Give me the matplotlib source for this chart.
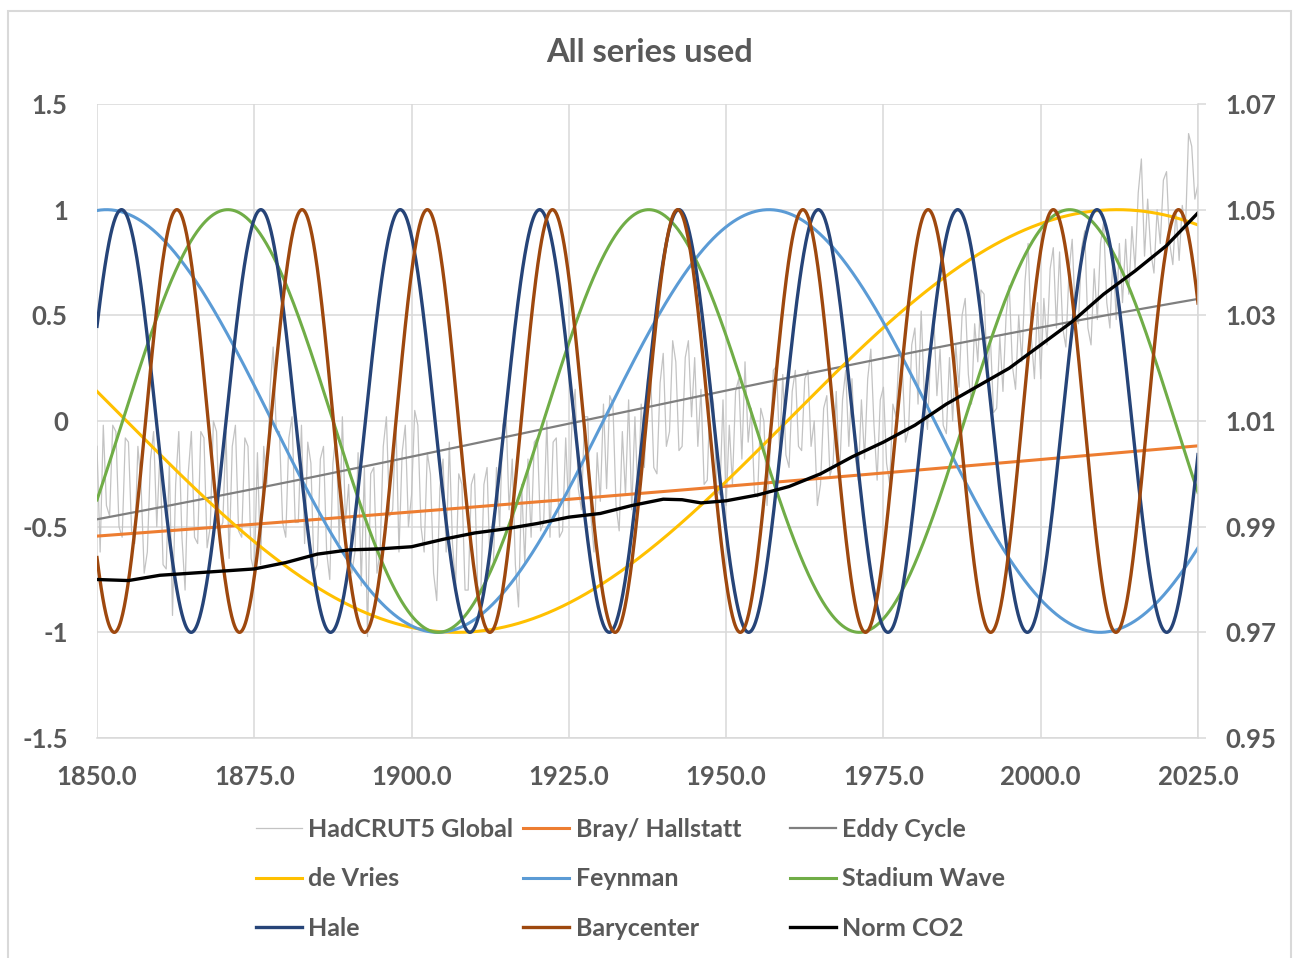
import numpy as np
import matplotlib.pyplot as plt
from matplotlib.patches import Rectangle
from matplotlib.ticker import FixedLocator, FixedFormatter, FormatStrFormatter

plt.rcParams['font.family'] = ['Lato', 'DejaVu Sans']
plt.rcParams['font.weight'] = 'bold'

# ---------------------------------------------------------------------
# Data
# ---------------------------------------------------------------------
# HadCRUT5 global anomaly, two readings per year from 1850.0 to 2025.0
hadcrut = [
    -0.12, -0.62, -0.02, -0.40, -0.45, -0.02, -0.05, -0.50, -0.55, -0.08,
    -0.10, -0.52, -0.58, -0.12, -0.30, -0.72, -0.62, -0.18, -0.05, -0.50,
    -0.15, -0.68, -0.70, -0.20, -0.92, -0.30, -0.05, -0.55, -0.80, -0.25,
    -0.05, -0.55, -0.58, -0.05, -0.08, -0.60, -0.50, 0.00, -0.05, -0.52,
    -0.48, -0.05, -0.65, -0.12, -0.02, -0.52, -0.55, -0.08, -0.12, -0.65,
    -0.72, -0.15, -0.68, -0.12, -0.30, 0.15, 0.35, -0.05, -0.05, -0.48,
    -0.55, -0.08, 0.02, -0.48, -0.48, -0.02, -0.58, -0.10, -0.20, -0.72,
    -0.68, -0.18, -0.12, -0.62, -0.75, -0.20, -0.05, -0.58, 0.02, -0.48,
    -0.30, -0.72, -0.62, -0.15, -0.78, -0.22, -1.02, -0.25, -0.22, -0.72,
    -0.62, -0.12, 0.02, -0.45, -0.42, 0.02, -0.62, -0.15, -0.02, -0.50,
    -0.35, 0.05, -0.02, -0.50, -0.62, -0.15, -0.25, -0.72, -0.85, -0.32,
    -0.18, -0.62, -0.10, -0.58, -0.78, -0.25, -0.30, -0.80, -0.80, -0.30,
    -0.25, -0.78, -0.82, -0.30, -0.22, -0.72, -0.68, -0.22, -0.50, -0.02,
    0.05, -0.42, -0.18, -0.68, -0.88, -0.30, -0.68, -0.18, -0.55, -0.10,
    -0.08, -0.52, -0.48, 0.00, -0.55, -0.10, -0.08, -0.55, -0.52, -0.08,
    -0.45, 0.00, 0.15, -0.32, -0.42, 0.02, 0.02, -0.45, -0.62, -0.15,
    -0.38, 0.08, -0.32, 0.12, 0.08, -0.40, -0.52, -0.05, -0.35, 0.10,
    -0.42, 0.02, -0.38, 0.08, -0.22, 0.20, 0.22, -0.22, -0.25, 0.18,
    0.32, -0.12, -0.05, 0.38, 0.28, -0.14, -0.12, 0.30, 0.38, 0.02,
    0.30, -0.12, 0.15, -0.30, -0.28, 0.18, 0.08, -0.32, -0.35, 0.10,
    -0.40, -0.02, -0.30, 0.14, 0.20, -0.18, 0.28, -0.10, 0.06, -0.34,
    -0.36, 0.06, 0.00, -0.40, -0.14, 0.24, 0.26, -0.14, 0.22, -0.16,
    -0.22, 0.14, 0.24, -0.12, -0.14, 0.20, 0.24, -0.12, 0.00, -0.40,
    -0.30, 0.06, 0.12, -0.26, -0.20, 0.14, -0.28, 0.10, 0.24, -0.12,
    0.20, -0.16, -0.28, 0.10, -0.18, 0.20, 0.34, -0.02, -0.28, 0.10,
    0.16, -0.20, -0.30, 0.08, 0.02, 0.34, 0.26, -0.10, -0.04, 0.36,
    0.44, 0.08, 0.52, 0.12, -0.04, 0.32, 0.50, 0.12, 0.34, -0.02,
    -0.06, 0.30, 0.00, 0.36, 0.16, 0.50, 0.58, 0.22, 0.08, 0.46,
    0.28, 0.62, 0.60, 0.22, 0.40, 0.04, 0.06, 0.40, 0.14, 0.50,
    0.64, 0.26, 0.15, 0.50, 0.28, 0.66, 0.84, 0.40, 0.20, 0.56,
    0.20, 0.58, 0.36, 0.72, 0.82, 0.44, 0.80, 0.44, 0.35, 0.71,
    0.86, 0.50, 0.46, 0.82, 0.90, 0.44, 0.36, 0.72, 0.48, 0.84,
    0.94, 0.56, 0.44, 0.80, 0.48, 0.84, 0.56, 0.86, 0.60, 0.92,
    0.72, 1.08, 1.24, 0.78, 1.05, 0.80, 0.70, 1.00, 0.84, 1.14,
    1.18, 0.84, 0.74, 1.00, 0.76, 1.02, 0.90, 1.36, 1.30, 1.05,
    1.12,
]

# solar / orbital cycles: period (years) and the year of a crest
cycle_names = ['Bray/ Hallstatt', 'Eddy Cycle', 'de Vries', 'Feynman',
               'Stadium Wave', 'Hale', 'Barycenter']
cycle_periods = [2400, 1000, 210, 105.3, 66.9, 22.15, 19.9]
cycle_peak_years = [2670, 2177, 2012.2, 1956.8, 1870.8, 1853.9, 1862.7]

# normalised CO2 (right axis)
co2_years = [1850, 1855, 1860, 1865, 1870, 1875, 1880, 1885, 1890, 1895,
             1900, 1905, 1910, 1915, 1920, 1925, 1930, 1935, 1940, 1943,
             1946, 1950, 1955, 1960, 1965, 1970, 1975, 1980, 1985, 1990,
             1995, 2000, 2005, 2010, 2015, 2020, 2025]
co2_norm = [0.9800, 0.9798, 0.9808, 0.9812, 0.9816, 0.9820, 0.9832, 0.9848,
            0.9856, 0.9858, 0.9862, 0.9876, 0.9888, 0.9896, 0.9906, 0.9918,
            0.9925, 0.9940, 0.9952, 0.9951, 0.9945, 0.9949, 0.9960, 0.9976,
            1.0000, 1.0032, 1.0060, 1.0092, 1.0132, 1.0166, 1.0200, 1.0244,
            1.0288, 1.0340, 1.0384, 1.0432, 1.0494]

left_ticks = [-1.5, -1, -0.5, 0, 0.5, 1, 1.5]
left_labels = ['-1.5', '-1', '-0.5', '0', '0.5', '1', '1.5']
right_ticks = [0.95, 0.97, 0.99, 1.01, 1.03, 1.05, 1.07]
right_labels = ['0.95', '0.97', '0.99', '1.01', '1.03', '1.05', '1.07']
year_ticks = [1850, 1875, 1900, 1925, 1950, 1975, 2000, 2025]

# ---------------------------------------------------------------------
# Styling
# ---------------------------------------------------------------------
cycle_colors = ['#ED7D31', '#7F7F7F', '#FFC000', '#5B9BD5', '#70AD47', '#264478', '#9E480E']
cycle_widths = [2.2, 1.6, 2.2, 2.2, 2.2, 2.4, 2.4]
grid_col = '#D9D9D9'
text_col = '#595959'
W, H = 1293, 958

fig = plt.figure(figsize=(W / 100, H / 100), dpi=100)
fig.patches.append(Rectangle((7.5 / W, -0.02), 1283 / W, (H - 10.5) / H + 0.02,
                             transform=fig.transFigure, fill=False,
                             edgecolor=grid_col, lw=1.5))

ax = fig.add_axes([97 / W, 1 - 738 / H, 1101 / W, 634 / H])

lines = {}
had_x = 1850 + 0.5 * np.arange(len(hadcrut))
lines['HadCRUT5 Global'], = ax.plot(had_x, hadcrut, color='#C3C3C3', lw=0.9)

t = np.arange(1850, 2025 + 1e-9, 1 / 12)
for name, per, peak, col, lw in zip(cycle_names, cycle_periods, cycle_peak_years,
                                    cycle_colors, cycle_widths):
    lines[name], = ax.plot(t, np.cos(2 * np.pi * (t - peak) / per), color=col, lw=lw)

ax.set_xlim(1850, 2025)
ax.set_ylim(-1.5, 1.5)
ax.xaxis.set_major_locator(FixedLocator(year_ticks))
ax.xaxis.set_major_formatter(FormatStrFormatter('%.1f'))
ax.yaxis.set_major_locator(FixedLocator(left_ticks))
ax.yaxis.set_major_formatter(FixedFormatter(left_labels))
ax.grid(True, color=grid_col, lw=1.1)
ax.set_axisbelow(True)
for s in ['top', 'left', 'right']:
    ax.spines[s].set_visible(False)
ax.spines['bottom'].set_color(grid_col)
ax.spines['bottom'].set_linewidth(1.1)
ax.tick_params(axis='x', length=0, pad=19.5, labelsize=18.5, labelcolor=text_col)
ax.tick_params(axis='y', length=0, pad=21, labelsize=18.5, labelcolor=text_col)

ax2 = ax.twinx()
lines['Norm CO2'], = ax2.plot(co2_years, co2_norm, color='black', lw=2.4)
ax2.set_ylim(0.95, 1.07)
ax2.yaxis.set_major_locator(FixedLocator(right_ticks))
ax2.yaxis.set_major_formatter(FixedFormatter(right_labels))
for s in ['top', 'left', 'bottom']:
    ax2.spines[s].set_visible(False)
ax2.spines['right'].set_color(grid_col)
ax2.spines['right'].set_linewidth(1.1)
ax2.tick_params(axis='y', direction='out', length=6, width=1.1, color=grid_col,
                pad=14, labelsize=18.5, labelcolor=text_col)

fig.text(650 / W, 1 - 52 / H, 'All series used', ha='center', va='center',
         fontsize=23.5, fontweight='bold', color=text_col)

# legend: three columns of equal width, like the spreadsheet one
legend_cols = [['HadCRUT5 Global', 'de Vries', 'Hale'],
               ['Bray/ Hallstatt', 'Feynman', 'Barycenter'],
               ['Eddy Cycle', 'Stadium Wave', 'Norm CO2']]
for cx, names in zip([256, 523, 790], legend_cols):
    fig.legend(handles=[lines[n] for n in names], labels=names,
               loc='upper left', bbox_to_anchor=(cx / W, 1 - 818 / H),
               frameon=False, fontsize=18, labelcolor=text_col,
               handlelength=1.85, handletextpad=0.25, labelspacing=1.05,
               borderpad=0, borderaxespad=0)

fig.savefig('out.png', dpi=100)
